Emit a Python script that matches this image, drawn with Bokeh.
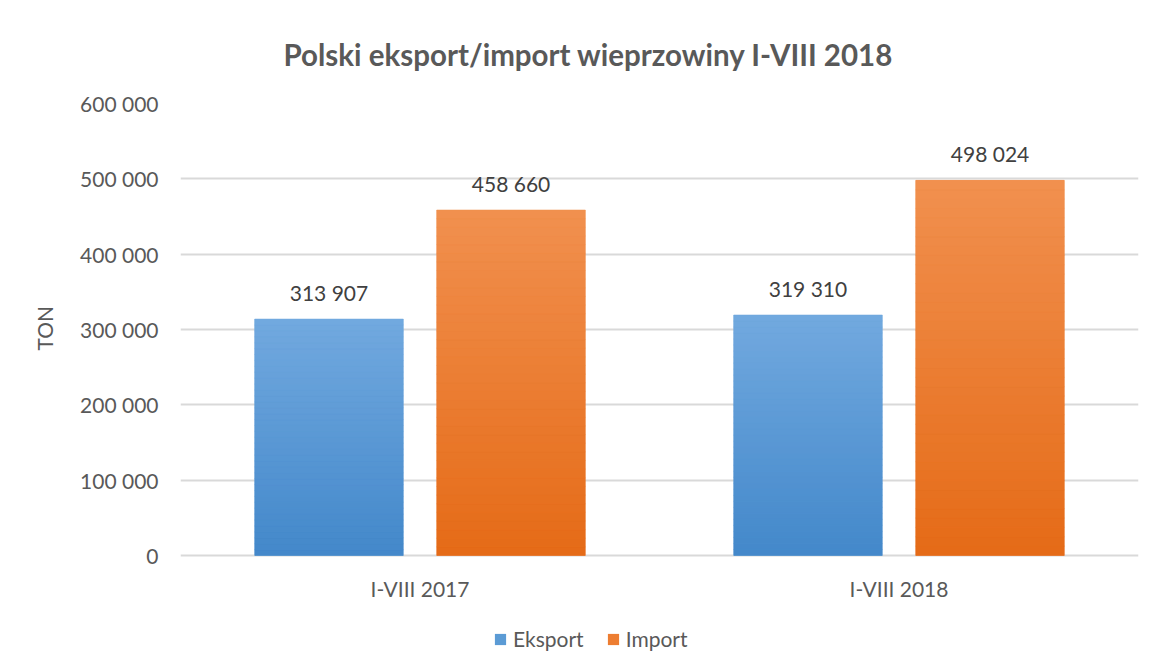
from bokeh.plotting import figure
from bokeh.models import (ColumnDataSource, FactorRange, FixedTicker, LabelSet,
                          Legend, LegendItem, Range1d, Title)
from bokeh.core.properties import value
from bokeh.transform import dodge
from bokeh.embed import file_html
from bokeh.resources import INLINE

# ---- data ----
categories = ["I-VIII 2017", "I-VIII 2018"]
eksport = [313907, 319310]
import_ = [458660, 498024]
y_ticks = [0, 100000, 200000, 300000, 400000, 500000, 600000]
title_text = "Polski eksport/import wieprzowiny I-VIII 2018"
y_label = "TON"

FONT = "Lato"
GREY = "#595959"

def fmt(v):
    return f"{v:,}".replace(",", " ")

def hex2rgb(h):
    h = h.lstrip("#")
    return tuple(int(h[i:i + 2], 16) for i in (0, 2, 4))

def mix(c_top, c_bot, t):
    a, b = hex2rgb(c_top), hex2rgb(c_bot)
    return "#%02x%02x%02x" % tuple(round(a[i] * (1 - t) + b[i] * t) for i in range(3))

# plot area: 452 px for the value scale, plus room below for category labels and legend
PLOT_H = 452
FRAME_H = 560
y_max = y_ticks[-1]
y_min = -y_max * (FRAME_H - PLOT_H) / PLOT_H

p = figure(frame_width=958, frame_height=FRAME_H,
           x_range=FactorRange(*categories, range_padding=0),
           y_range=Range1d(y_min, y_max), output_backend="svg", toolbar_location=None,
           min_border_left=180, min_border_right=10, min_border_top=103, min_border_bottom=4)
p.outline_line_color = None

p.title.text = title_text
p.title.align = "left"
p.title.offset = 103
p.title.text_font = FONT
p.title.text_font_size = "29.5px"
p.title.text_font_style = "bold"
p.title.text_color = GREY
p.title.standoff = 64

W = 0.31
OFF = 0.19
series = [("Eksport", eksport, -OFF, "#72A9DF", "#4388CA", "#5B9BD5"),
          ("Import", import_, OFF, "#F1904F", "#E56B17", "#ED7D31")]

items = []
N = 40
for name, vals, off, ctop, cbot, cmid in series:
    src = ColumnDataSource(dict(cat=categories, val=vals, lab=[fmt(v) for v in vals]))
    r = p.vbar(x=dodge("cat", off, range=p.x_range), top="val", width=W, source=src,
               fill_color=cmid, line_color=None)
    items.append(LegendItem(label=name, renderers=[r]))
    # vertical gradient made of slices of each bar
    cats, bots, tops, cols = [], [], [], []
    for c, v in zip(categories, vals):
        for i in range(N):
            cats.append(c)
            bots.append(v * i / N)
            tops.append(v * (i + 1) / N)
            cols.append(mix(ctop, cbot, 1 - (i + 0.5) / N))
    gsrc = ColumnDataSource(dict(cat=cats, bottom=bots, top=tops, color=cols))
    p.vbar(x=dodge("cat", off, range=p.x_range), bottom="bottom", top="top", width=W,
           source=gsrc, fill_color="color", line_color="color", line_width=0.5)
    p.add_layout(LabelSet(x=dodge("cat", off, range=p.x_range), y="val", text="lab",
                          source=src, text_align="center", text_baseline="bottom",
                          y_offset=14, text_font=value(FONT), text_font_size=value("21px"),
                          text_color="#404040"))

# category labels under the baseline
csrc = ColumnDataSource(dict(cat=categories, y0=[0] * len(categories)))
p.add_layout(LabelSet(x="cat", y="y0", text="cat", source=csrc, text_align="center",
                      text_baseline="middle", y_offset=-33, text_font=value(FONT),
                      text_font_size=value("21px"), text_color=GREY))

# y axis
p.yaxis.ticker = FixedTicker(ticks=y_ticks)
p.yaxis.major_label_overrides = {t: fmt(t) for t in y_ticks}
p.yaxis.axis_line_color = None
p.yaxis.major_tick_line_color = None
p.yaxis.minor_tick_line_color = None
p.yaxis.major_label_standoff = 16
p.yaxis.major_label_text_font = FONT
p.yaxis.major_label_text_font_size = "21px"
p.yaxis.major_label_text_color = GREY

# y axis title, placed at the middle of the value scale
p.add_layout(Title(text=y_label, align="left", offset=313, standoff=41,
                   text_font=FONT, text_font_size="21px", text_font_style="normal",
                   text_color=GREY), "left")

p.xaxis.visible = False

p.xgrid.grid_line_color = None
p.ygrid.grid_line_color = "#D9D9D9"
p.ygrid.grid_line_width = 2

legend = Legend(items=items, orientation="horizontal", location=(313, 12),
                label_text_font=FONT, label_text_font_size="21px",
                label_text_color=GREY, glyph_width=14, glyph_height=14,
                spacing=22, label_standoff=6, border_line_color=None,
                background_fill_alpha=0, margin=0, padding=0)
p.add_layout(legend, "center")

open("out.html", "w").write(file_html(p, INLINE))
